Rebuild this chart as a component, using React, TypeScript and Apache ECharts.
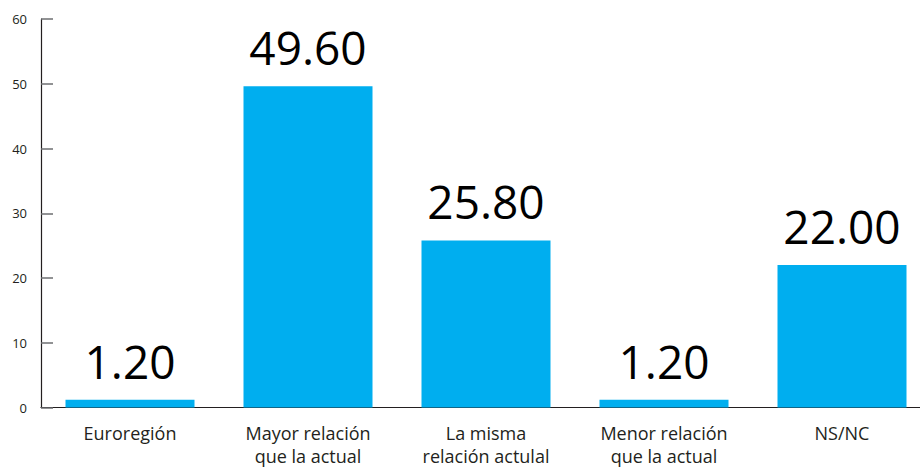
import React, { useEffect, useRef } from "react";
import * as echarts from "echarts";

const categories = [
  "Euroregión",
  "Mayor relación\nque la actual",
  "La misma\nrelación actulal",
  "Menor relación\nque la actual",
  "NS/NC",
];
const values = [1.2, 49.6, 25.8, 1.2, 22.0];
const yTicks = { min: 0, max: 60, interval: 10 };

export default function App() {
  const ref = useRef<HTMLDivElement>(null);
  useEffect(() => {
    document.body.style.margin = "0";
    document.body.style.overflow = "hidden";
    document.documentElement.style.overflow = "hidden";
    const chart = echarts.init(ref.current!, null, { renderer: "svg" });
    chart.setOption({
      animation: false,
      grid: { left: 41, top: 19, right: 0, height: 388.5 },
      xAxis: {
        type: "category",
        data: categories,
        boundaryGap: true,
        axisLine: { lineStyle: { color: "#231f20", width: 1.2 } },
        axisTick: { inside: true, length: 8, lineStyle: { color: "#231f20" } },
        axisLabel: {
          color: "#231f20",
          fontFamily: "Open Sans",
          fontSize: 18,
          lineHeight: 23,
          margin: 14,
        },
      },
      yAxis: {
        type: "value",
        min: yTicks.min,
        max: yTicks.max,
        interval: yTicks.interval,
        splitLine: { show: false },
        axisLine: { show: true, lineStyle: { color: "#231f20", width: 1.2 } },
        axisTick: { show: true, inside: true, length: 12, lineStyle: { color: "#6d6e71", width: 1.5 } },
        axisLabel: {
          color: "#231f20",
          fontFamily: "Open Sans",
          fontSize: 13,
          margin: 14,
        },
      },
      series: [
        {
          type: "bar",
          data: values,
          barWidth: 129,
          itemStyle: { color: "#00aeef" },
          label: {
            show: true,
            position: "top",
            distance: 16,
            color: "#000",
            fontFamily: "Open Sans",
            fontSize: 46,
            formatter: (p: any) => Number(p.value).toFixed(2),
          },
        },
      ],
    });
    return () => chart.dispose();
  }, []);
  return <div ref={ref} style={{ width: 931, height: 468, overflow: "hidden" }} />;
}
